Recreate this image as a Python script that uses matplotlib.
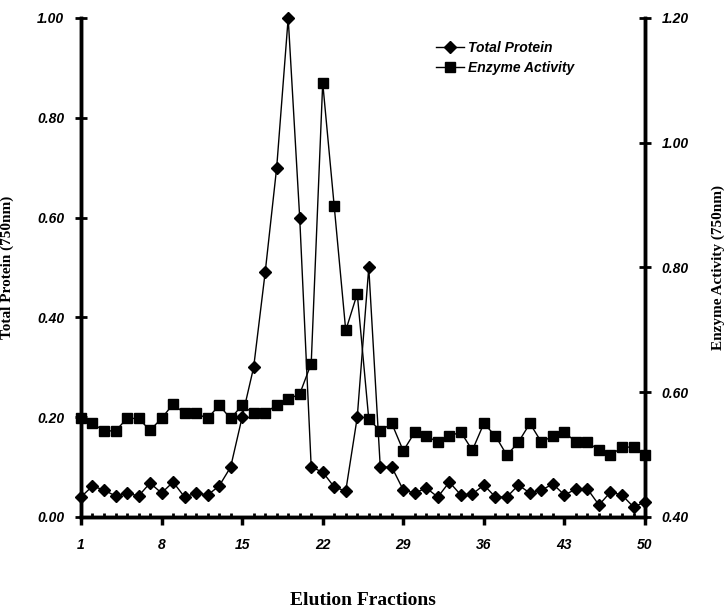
import matplotlib
matplotlib.use("Agg")
import matplotlib.pyplot as plt
from matplotlib.ticker import MultipleLocator, FixedLocator

fractions = list(range(1, 51))

total_protein = [
    0.040, 0.062, 0.054, 0.042, 0.048, 0.042, 0.068, 0.048, 0.070, 0.040,
    0.048, 0.044, 0.062, 0.100, 0.200, 0.300, 0.490, 0.700, 1.000, 0.600,
    0.100, 0.090, 0.060, 0.052, 0.200, 0.500, 0.100, 0.100, 0.054, 0.048,
    0.058, 0.040, 0.070, 0.044, 0.046, 0.064, 0.040, 0.040, 0.064, 0.048,
    0.054, 0.066, 0.044, 0.056, 0.056, 0.024, 0.050, 0.044, 0.020, 0.030,
]

enzyme_activity = [
    0.558, 0.550, 0.538, 0.538, 0.558, 0.558, 0.539, 0.558, 0.581, 0.566,
    0.566, 0.558, 0.579, 0.558, 0.579, 0.566, 0.566, 0.580, 0.589, 0.597,
    0.646, 1.096, 0.898, 0.699, 0.758, 0.557, 0.538, 0.550, 0.506, 0.536,
    0.530, 0.520, 0.530, 0.536, 0.507, 0.550, 0.530, 0.499, 0.520, 0.550,
    0.520, 0.530, 0.536, 0.520, 0.520, 0.507, 0.499, 0.512, 0.512, 0.499,
]

x_ticks = [1, 8, 15, 22, 29, 36, 43, 50]
left_ticks = [0.0, 0.2, 0.4, 0.6, 0.8, 1.0]
right_ticks = [0.4, 0.6, 0.8, 1.0, 1.2]

tick_font = dict(family="Liberation Sans", weight="bold", style="italic", size=10)
label_font = dict(family="Liberation Serif", weight="bold")

fig = plt.figure(figsize=(7.25, 6.1), dpi=100)
ax = fig.add_axes([0.1117, 0.1525, 0.778, 0.818])
ax2 = ax.twinx()

p1, = ax.plot(fractions, total_protein, color="black", lw=1.0, marker="D",
              markersize=6.5, label="Total Protein", clip_on=False, zorder=3)
p2, = ax2.plot(fractions, enzyme_activity, color="black", lw=1.0, marker="s",
               markersize=7, label="Enzyme Activity", clip_on=False, zorder=3)

ax.set_xlim(1, 50)
ax.set_ylim(0, 1.0)
ax2.set_ylim(0.4, 1.2)

ax.xaxis.set_major_locator(FixedLocator(x_ticks))
ax.xaxis.set_minor_locator(MultipleLocator(1))
ax.set_yticks(left_ticks)
ax.set_yticklabels([f"{v:.2f}" for v in left_ticks], fontdict=tick_font)
ax.set_xticklabels([str(v) for v in x_ticks], fontdict=tick_font)
ax2.set_yticks(right_ticks)
ax2.set_yticklabels([f"{v:.2f}" for v in right_ticks], fontdict=tick_font)

for a in (ax, ax2):
    a.spines["top"].set_visible(False)
    a.spines["left"].set_linewidth(2.5)
    a.spines["right"].set_linewidth(2.5)
    a.spines["bottom"].set_linewidth(2.5)

ax.tick_params(axis="x", which="major", direction="out", length=6, width=2.5, pad=9)
ax.tick_params(axis="x", which="minor", direction="in", length=3, width=2)
ax.tick_params(axis="y", which="major", direction="inout", length=8, width=2, pad=8)
ax2.tick_params(axis="y", which="major", direction="inout", length=8, width=2, pad=8)

ax.set_ylabel("Total Protein (750nm)", fontsize=11, **label_font)
ax.yaxis.set_label_coords(-0.118, 0.5)
ax2.set_ylabel("Enzyme Activity (750nm)", fontsize=11, rotation=90, **label_font)
ax2.yaxis.set_label_coords(1.118, 0.5)
ax.set_xlabel("Elution Fractions", fontsize=14, **label_font)
ax.xaxis.set_label_coords(0.5, -0.15)

ax.legend(handles=[p1, p2], loc="upper left", bbox_to_anchor=(0.62, 0.965),
          frameon=False, handlelength=2.0, handletextpad=0.3, borderaxespad=0,
          labelspacing=0.45,
          prop=dict(family="Liberation Sans", weight="bold", style="italic", size=10))

fig.savefig("out.png", dpi=100)
